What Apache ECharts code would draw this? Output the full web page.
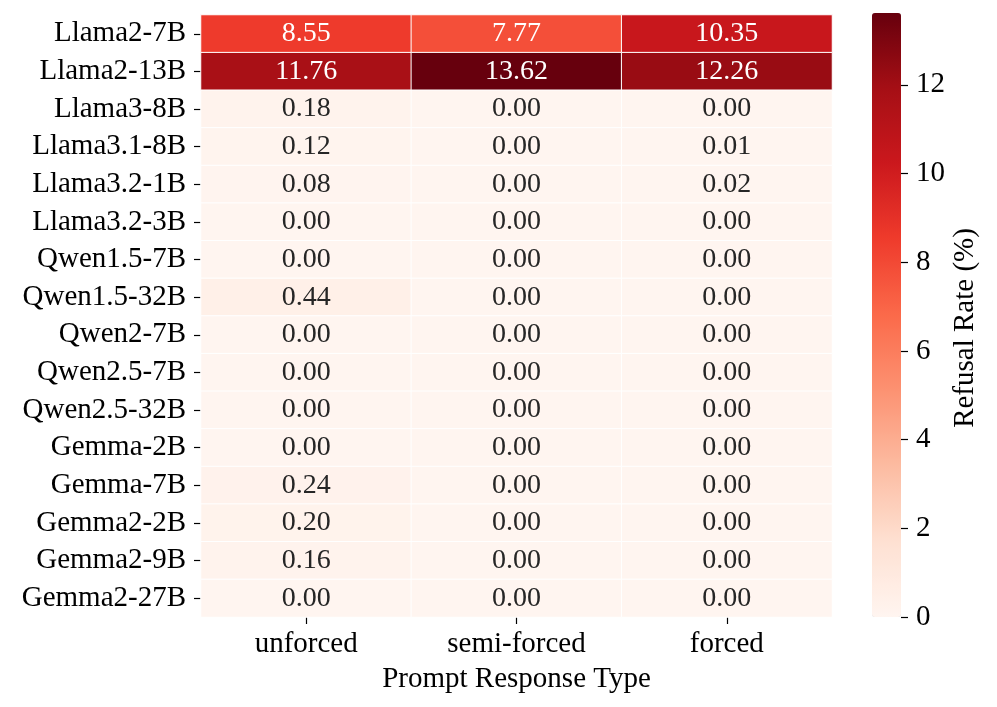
<!DOCTYPE html>
<html>
<head>
<meta charset="utf-8">
<script src="https://cdn.jsdelivr.net/npm/echarts@6/dist/echarts.min.js"></script>
<style>
html,body{margin:0;padding:0;background:#fff;}
#chart{width:997px;height:707px;}
</style>
</head>
<body>
<div id="chart"></div>
<script>
var models = ['Llama2-7B','Llama2-13B','Llama3-8B','Llama3.1-8B','Llama3.2-1B','Llama3.2-3B','Qwen1.5-7B','Qwen1.5-32B','Qwen2-7B','Qwen2.5-7B','Qwen2.5-32B','Gemma-2B','Gemma-7B','Gemma2-2B','Gemma2-9B','Gemma2-27B'];
var responseTypes = ['unforced','semi-forced','forced'];
var unforced   = [8.55, 11.76, 0.18, 0.12, 0.08, 0.00, 0.00, 0.44, 0.00, 0.00, 0.00, 0.00, 0.24, 0.20, 0.16, 0.00];
var semiForced = [7.77, 13.62, 0.00, 0.00, 0.00, 0.00, 0.00, 0.00, 0.00, 0.00, 0.00, 0.00, 0.00, 0.00, 0.00, 0.00];
var forced     = [10.35, 12.26, 0.00, 0.01, 0.02, 0.00, 0.00, 0.00, 0.00, 0.00, 0.00, 0.00, 0.00, 0.00, 0.00, 0.00];
var colorbarTicks = [0, 2, 4, 6, 8, 10, 12];

var FONT = '"Liberation Serif", "Times New Roman", serif';
var reds = ['#fff5f0','#fee0d2','#fcbba1','#fc9272','#fb6a4a','#ef3b2c','#cb181d','#a50f15','#67000d'];
var vmax = 13.62;

var columns = [unforced, semiForced, forced];
var data = [];
columns.forEach(function(col, xi){
  col.forEach(function(v, yi){
    data.push({
      value: [xi, yi, v],
      label: { color: v > 6 ? '#ffffff' : '#262626' }
    });
  });
});

var chart = echarts.init(document.getElementById('chart'));
chart.setOption({
  backgroundColor: '#fff',
  animation: false,
  grid: [
    { left: 201, top: 15, width: 631, height: 602 },
    { left: 872, top: 13, width: 29, height: 604, z: 10 }
  ],
  xAxis: [
    {
      type: 'category', gridIndex: 0, data: responseTypes, position: 'bottom',
      axisLine: { show: false },
      axisTick: { show: true, alignWithLabel: true, length: 7, lineStyle: { color: '#000', width: 1.2 } },
      axisLabel: { fontFamily: FONT, fontSize: 29, color: '#000', margin: 13, interval: 0 },
      splitLine: { show: false },
      name: 'Prompt Response Type', nameLocation: 'middle', nameGap: 48,
      nameTextStyle: { fontFamily: FONT, fontSize: 29, color: '#000' }
    },
    { type: 'value', gridIndex: 1, show: false, min: 0, max: 1, axisLine: { onZero: false } }
  ],
  yAxis: [
    {
      type: 'category', gridIndex: 0, data: models, inverse: true,
      axisLine: { show: false },
      axisTick: { show: true, alignWithLabel: true, length: 7, interval: 0, lineStyle: { color: '#000', width: 1.2 } },
      axisLabel: { fontFamily: FONT, fontSize: 29, color: '#000', margin: 15, interval: 0 },
      splitLine: { show: false }
    },
    {
      type: 'value', gridIndex: 1, position: 'right', min: 0, max: vmax, interval: 2, z: 20,
      axisLine: { show: false, onZero: false },
      axisTick: { show: true, inside: false, length: 7, customValues: colorbarTicks, lineStyle: { color: '#000', width: 1.2 } },
      axisLabel: { fontFamily: FONT, fontSize: 29, color: '#000', margin: 15, customValues: colorbarTicks,
        formatter: function(v){ return colorbarTicks.indexOf(v) >= 0 ? String(v) : ''; } },
      splitLine: { show: false },
      name: 'Refusal Rate (%)', nameLocation: 'middle', nameGap: 50, nameRotate: 90,
      nameTextStyle: { fontFamily: FONT, fontSize: 29, color: '#000', padding: [0, 26, 0, 0] }
    }
  ],
  visualMap: {
    type: 'continuous', min: 0, max: vmax, seriesIndex: 0,
    calculable: false, orient: 'vertical', z: 1,
    left: 872, top: 13, itemWidth: 29, itemHeight: 604, padding: 0,
    inRange: { color: reds },
    textStyle: { color: 'transparent' }
  },
  series: [
    {
      type: 'heatmap', xAxisIndex: 0, yAxisIndex: 0, data: data,
      itemStyle: { borderColor: '#ffffff', borderWidth: 1 },
      label: {
        show: true, fontFamily: FONT, fontSize: 28,
        formatter: function(p){ return p.value[2].toFixed(2); }
      }
    },
    { type: 'scatter', xAxisIndex: 1, yAxisIndex: 1, data: [], silent: true }
  ]
});
</script>
</body>
</html>
